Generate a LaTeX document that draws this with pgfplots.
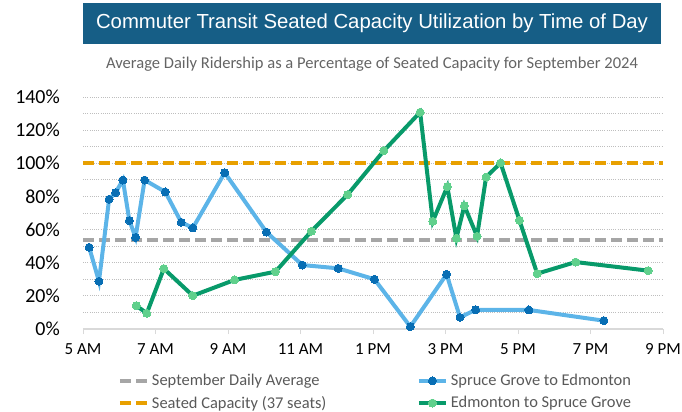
\documentclass[border=0pt]{standalone}
\usepackage{fontspec}
\setmainfont{Carlito}
\newfontfamily\arialfont{Liberation Sans}
\usepackage{pgfplots}
\pgfplotsset{compat=1.18}
\definecolor{titleblue}{RGB}{22,94,134}
\definecolor{subgray}{RGB}{100,100,100}
\definecolor{leggray}{RGB}{89,89,89}
\definecolor{axisgray}{RGB}{217,217,217}
\definecolor{gridgray}{RGB}{190,190,190}
\definecolor{avggray}{RGB}{166,166,166}
\definecolor{caporange}{RGB}{232,160,0}
\definecolor{sgline}{RGB}{92,180,232}
\definecolor{sgmark}{RGB}{8,110,180}
\definecolor{edline}{RGB}{8,154,106}
\definecolor{edmark}{RGB}{96,208,140}
\begin{document}
\begin{tikzpicture}
\path[use as bounding box] (0bp,0bp) rectangle (682bp,412bp);
\fill[titleblue] (83bp,409bp) rectangle (661bp,368bp);
\node[text=white, font=\arialfont\fontsize{20.4}{22}\selectfont, inner sep=0pt] at (372bp,388.5bp) {Commuter Transit Seated Capacity Utilization by Time of Day};
\node[text=subgray, font=\fontsize{16.6}{18}\selectfont, inner sep=0pt] at (372bp,348bp) {Average Daily Ridership as a Percentage of Seated Capacity for September 2024};
\begin{axis}[
  at={(83bp,83bp)}, anchor=south west,
  scale only axis, width=580bp, height=232bp,
  xmin=5, xmax=21, ymin=0, ymax=140,
  clip=false,
  separate axis lines,
  axis x line*=bottom, axis y line*=left,
  x axis line style={draw=axisgray, line width=1.5bp, -},
  y axis line style={draw=none},
  xtick={5,7,...,21},
  xticklabels={5 AM,7 AM,9 AM,11 AM,1 PM,3 PM,5 PM,7 PM,9 PM},
  ytick={0,20,...,140},
  minor ytick={10,30,...,130},
  yticklabel={\pgfmathprintnumber{\tick}\%},
  tick align=outside,
  major tick length=5bp, minor tick length=0pt,
  xtick style={draw=axisgray, line width=1bp},
  ytick style={draw=none},
  ymajorgrids, yminorgrids,
  major grid style={draw=gridgray, line width=0.8bp, dash pattern=on 1bp off 1.2bp},
  minor grid style={draw=gridgray, line width=0.8bp, dash pattern=on 1bp off 1.2bp},
  xticklabel style={font=\fontsize{17}{18}\selectfont, text=black, inner sep=0pt, anchor=north, yshift=-9bp},
  yticklabel style={font=\fontsize{20}{22}\selectfont, text=black, inner sep=0pt, anchor=east, xshift=-18bp},
  /pgf/number format/assume math mode=true,
  legend columns=2,
  legend cell align=left,
  legend image code/.code={\draw[#1, mark repeat=2, mark phase=2] plot coordinates {(0bp,0bp) (13.5bp,0bp) (27bp,0bp)};},
  legend style={draw=none, fill=none, inner sep=0pt, outer sep=0pt,
    at={(axis description cs:0.0603,-0.187)}, anchor=north west,
    font=\fontsize{16.5}{18}\selectfont, text=leggray,
    row sep=5bp,
    /tikz/every odd column/.append style={column sep=1bp},
    /tikz/column 2/.style={column sep=88.5bp}},
]
\addplot[avggray, line width=4bp, dash pattern=on 11bp off 5bp, mark=none] coordinates {(5,53.9) (21,53.9)};
\addlegendentry{September Daily Average}
\addplot[sgline, line width=4bp, mark=*, mark size=4bp, mark options={draw=sgmark, fill=sgmark, line width=0bp, solid}] coordinates {
(5.17,49.3) (5.44,28.8) (5.72,78.3) (5.90,82.3) (6.10,89.9) (6.28,65.4) (6.45,55.3) (6.70,89.9)
(7.27,82.7) (7.71,64.4) (8.03,61.0) (8.91,94.3) (10.06,58.5) (11.05,38.6) (12.04,36.6) (13.04,30.0)
(14.03,1.4) (15.03,33.0) (15.40,7.0) (15.83,11.6) (17.30,11.5) (19.37,5.0)};
\addlegendentry{Spruce Grove to Edmonton}
\addplot[caporange, line width=4bp, dash pattern=on 11bp off 5bp, mark=none] coordinates {(5,100) (21,100)};
\addlegendentry{Seated Capacity (37 seats)}
\addplot[edline, line width=4bp, mark=*, mark size=4bp, mark options={draw=edmark, fill=edmark, line width=0bp, solid}] coordinates {
(6.47,14.1) (6.76,9.5) (7.23,36.4) (8.03,20.1) (9.18,29.6) (10.31,34.6) (11.30,59.0) (12.30,81.1)
(13.30,107.6) (14.30,130.8) (14.65,65.0) (15.05,85.9) (15.30,54.8) (15.52,74.4) (15.87,56.0) (16.12,91.7)
(16.52,100.2) (17.04,65.6) (17.53,33.4) (18.59,40.4) (20.59,35.2)};
\addlegendentry{Edmonton to Spruce Grove}
\end{axis}
\end{tikzpicture}
\end{document}
